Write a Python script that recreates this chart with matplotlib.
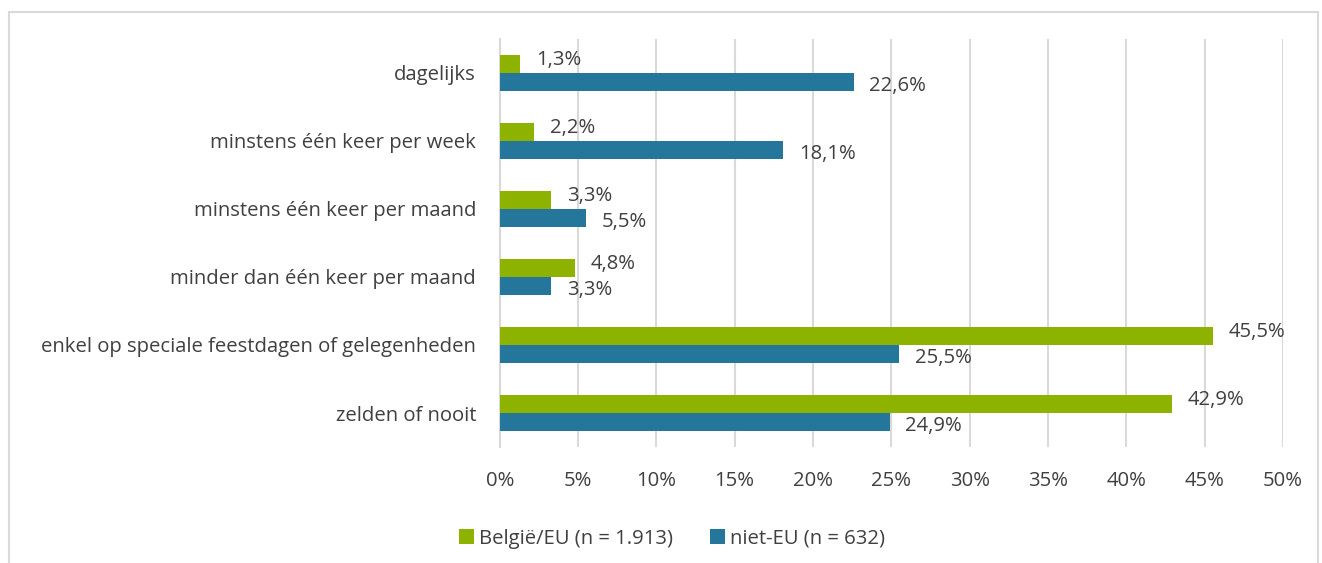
import numpy as np
import matplotlib.pyplot as plt
from matplotlib.patches import Rectangle

plt.rcParams['font.family'] = ['Open Sans', 'DejaVu Sans']

categories = ['dagelijks', 'minstens één keer per week', 'minstens één keer per maand',
              'minder dan één keer per maand', 'enkel op speciale feestdagen of gelegenheden',
              'zelden of nooit']
belgie_eu = [1.3, 2.2, 3.3, 4.8, 45.5, 42.9]
niet_eu = [22.6, 18.1, 5.5, 3.3, 25.5, 24.9]
series_labels = ['België/EU (n = 1.913)', 'niet-EU (n = 632)']
ticks = [0, 5, 10, 15, 20, 25, 30, 35, 40, 45, 50]

green = '#8DB200'
blue = '#24779A'
txt = '#404040'
fs = 14.6

fig = plt.figure(figsize=(13.22, 5.63), dpi=100)
ax = fig.add_axes([0.378, 0.206, 0.5925, 0.725])

y = np.arange(len(categories))
h = 0.26
ax.barh(y - h / 2, belgie_eu, height=h, color=green, label=series_labels[0], zorder=3)
ax.barh(y + h / 2, niet_eu, height=h, color=blue, label=series_labels[1], zorder=3)

for i in range(len(categories)):
    ax.text(belgie_eu[i] + 1.0, y[i] - h / 2 - 0.06, f'{belgie_eu[i]:.1f}%'.replace('.', ','),
            va='center', ha='left', fontsize=fs, color=txt)
    ax.text(niet_eu[i] + 1.0, y[i] + h / 2 + 0.06, f'{niet_eu[i]:.1f}%'.replace('.', ','),
            va='center', ha='left', fontsize=fs, color=txt)

ax.set_xlim(0, 50)
ax.set_ylim(len(categories) - 0.5, -0.5)
ax.set_xticks(ticks)
ax.set_xticklabels([f'{t}%' for t in ticks], fontsize=fs, color=txt)
ax.set_yticks(y)
ax.set_yticklabels(categories, fontsize=fs, color=txt)
ax.tick_params(length=0, pad=17)
ax.tick_params(axis='y', pad=17)
ax.grid(axis='x', color='#D9D9D9', linewidth=1.5, zorder=0)
for s in ['top', 'right', 'bottom']:
    ax.spines[s].set_visible(False)
ax.spines['left'].set_color('#D9D9D9')
ax.spines['left'].set_linewidth(1.5)

ax.legend(loc='upper center', bbox_to_anchor=(0.22, -0.155), ncol=2, frameon=False,
          fontsize=fs, labelcolor=txt, handlelength=0.75, handleheight=0.75,
          handletextpad=0.25, columnspacing=1.8)

fig.patches.append(Rectangle((9 / 1322, -0.01), 1309 / 1322, 1 - 12 / 563 + 0.01,
                             transform=fig.transFigure, fill=False,
                             edgecolor='#D9D9D9', linewidth=1.5))

fig.savefig('out.png', dpi=100)
